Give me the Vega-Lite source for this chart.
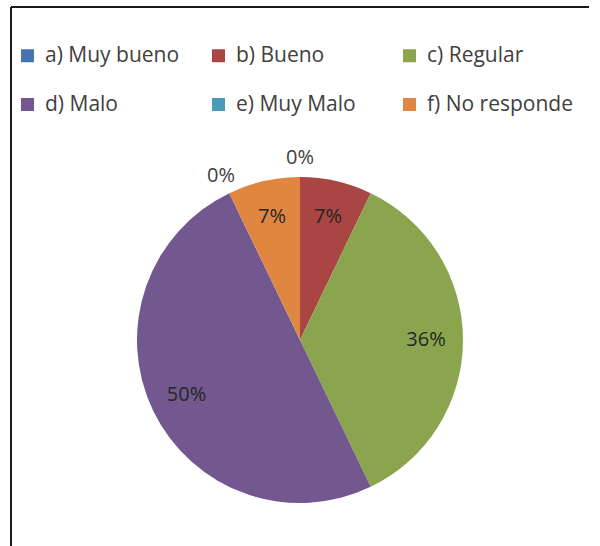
{
  "$schema": "https://vega.github.io/schema/vega-lite/v6.json",
  "autosize": "none",
  "width": 578,
  "height": 666,
  "padding": {"left": 11, "top": 7, "right": 0, "bottom": 0},
  "background": "white",
  "view": {"stroke": "#1a1a1a", "strokeWidth": 2, "strokeDash": [578, 1244, 666, 0]},
  "config": {
    "font": "Open Sans"
  },
  "data": {
    "values": [
      {"cat": "a) Muy bueno", "n": 0, "label": "0%"},
      {"cat": "b) Bueno", "n": 1, "label": "7%"},
      {"cat": "c) Regular", "n": 5, "label": "36%"},
      {"cat": "d) Malo", "n": 7, "label": "50%"},
      {"cat": "e) Muy Malo", "n": 0, "label": "0%"},
      {"cat": "f) No responde", "n": 1, "label": "7%"}
    ]
  },
  "encoding": {
    "theta": {"field": "n", "type": "quantitative", "stack": true},
    "order": {"field": "cat", "type": "ordinal"}
  },
  "layer": [
    {
      "mark": {"type": "arc", "outerRadius": 163, "strokeWidth": 0},
      "encoding": {
        "color": {
          "field": "cat",
          "type": "nominal",
          "scale": {
            "domain": ["a) Muy bueno", "b) Bueno", "c) Regular", "d) Malo", "e) Muy Malo", "f) No responde"],
            "range": ["#4674B0", "#A94543", "#8AA54E", "#72588E", "#4A9BB5", "#DF8741"]
          },
          "legend": {
            "title": null,
            "orient": "none",
            "legendX": 6,
            "legendY": 38,
            "columns": 3,
            "direction": "horizontal",
            "gridAlign": "all",
            "symbolType": "square",
            "symbolSize": 169,
            "symbolStrokeWidth": 0,
            "labelFontSize": 21,
            "labelColor": "#404040",
            "labelOffset": 7,
            "labelLimit": 300,
            "rowPadding": 27,
            "columnPadding": 17,
            "padding": 0
          }
        }
      }
    },
    {
      "mark": {"type": "text", "radius": 126, "fontSize": 20, "fill": "#262626"},
      "encoding": {
        "text": {"field": "label"},
        "opacity": {"condition": {"test": "datum.n == 0", "value": 0}, "value": 1}
      }
    },
    {
      "mark": {"type": "text", "radius": 182, "fontSize": 20, "fill": "#404040"},
      "encoding": {
        "text": {"field": "label"},
        "opacity": {"condition": {"test": "datum.n > 0", "value": 0}, "value": 1}
      }
    }
  ]
}
